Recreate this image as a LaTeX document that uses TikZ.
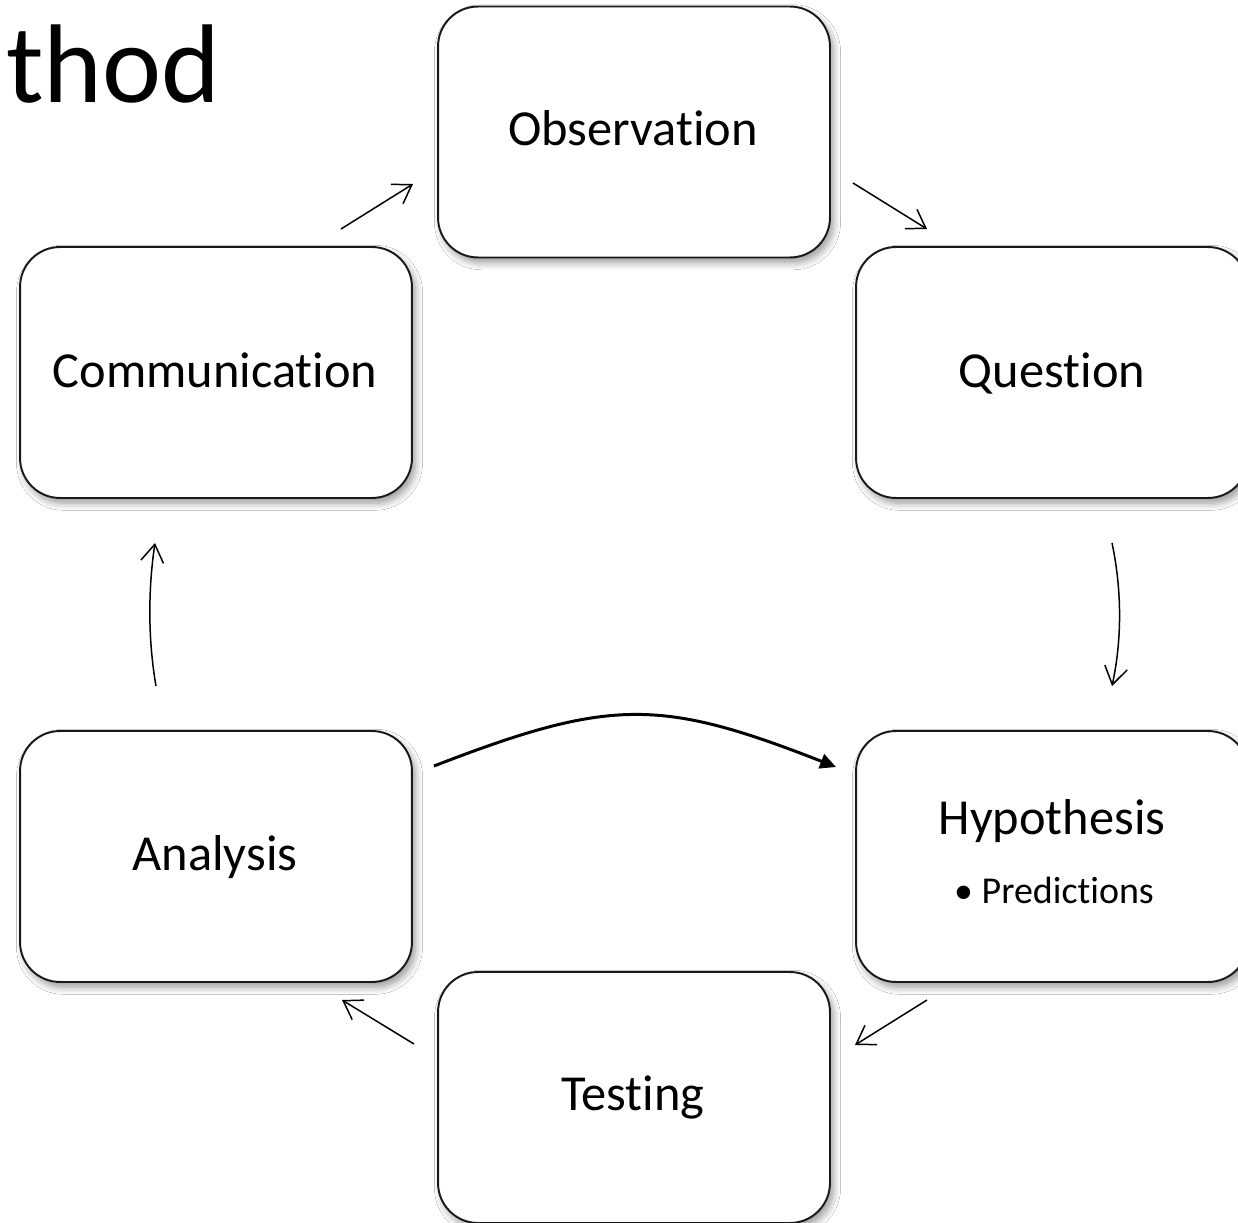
\documentclass[tikz,border=0pt]{standalone}
\usepackage{fontspec}
\setmainfont{Carlito}[RawFeature={-liga;-clig;-calt;-dlig}]
\usetikzlibrary{arrows.meta,shadows.blur}
\tikzset{
  stagebox/.style={draw=black!90, line width=1.1pt, fill=white, rounded corners=0.8cm,
    minimum width=7.84cm, minimum height=5.02cm, inner sep=0pt,
    blur shadow={shadow xshift=2pt, shadow yshift=-3pt, shadow blur radius=4pt, shadow blur steps=8, shadow opacity=40}},
  stagelabel/.style={anchor=base, inner sep=0pt, font=\fontsize{28.7}{34}\selectfont},
  sublabel/.style={anchor=base, inner sep=0pt, font=\fontsize{21.6}{26}\selectfont},
  thinarrow/.style={line width=0.85pt, -{Straight Barb[length=10pt,width=13pt,line width=0.85pt]}},
  thickarrow/.style={line width=1.7pt, -{Triangle[length=9pt,width=8.5pt]}}
}
\begin{document}
\begin{tikzpicture}[x=0.02cm,y=-0.02cm]
\useasboundingbox (0,0) rectangle (1238,1223);
\clip (0,0) rectangle (1238,1223);
\fill[white] (0,0) rectangle (1238,1223);

\node[anchor=base west, inner sep=0pt, font=\fontsize{63.7}{70}\selectfont] (title) at (6,103) {thod};

\node[stagebox] (obs) at (634,132) {};
\node[stagebox] (que) at (1052,372.5) {};
\node[stagebox] (com) at (216,372.5) {};
\node[stagebox] (hyp) at (1052,856.5) {};
\node[stagebox] (ana) at (216,856.5) {};
\node[stagebox] (tes) at (634,1097.5) {};

\node[stagelabel] (tobs) at (633,146) {Observation};
\node[stagelabel] (tque) at (1052,387) {Question};
\node[stagelabel] (tcom) at (215,387) {Communication};
\node[stagelabel] (thyp) at (1052,834) {Hypothesis};
\node[sublabel] (tpred) at (1054,903) {\textbullet\ Predictions};
\node[stagelabel] (tana) at (215,870) {Analysis};
\node[stagelabel] (ttes) at (633,1110) {Testing};

\coordinate (c1s) at (341,229); \coordinate (c1e) at (413,184);
\coordinate (c2s) at (853,183); \coordinate (c2e) at (927,229);
\coordinate (c3s) at (1112,543); \coordinate (c3e) at (1112,686);
\coordinate (c4s) at (927,1000); \coordinate (c4e) at (855,1045);
\coordinate (c5s) at (414,1044); \coordinate (c5e) at (342,1000);
\coordinate (c6s) at (156,686); \coordinate (c6e) at (155,543);
\coordinate (c7s) at (434,766); \coordinate (c7e) at (836,767);

\draw[thinarrow] (c1s) -- (c1e);
\draw[thinarrow] (c2s) -- (c2e);
\draw[thinarrow] (c3s) .. controls (1122,590) and (1122,640) .. (c3e);
\draw[thinarrow] (c4s) -- (c4e);
\draw[thinarrow] (c5s) -- (c5e);
\draw[thinarrow] (c6s) .. controls (148,640) and (148,590) .. (c6e);
\draw[thickarrow] (c7s) .. controls (610,698) and (660,698) .. (c7e);
\end{tikzpicture}
\end{document}
